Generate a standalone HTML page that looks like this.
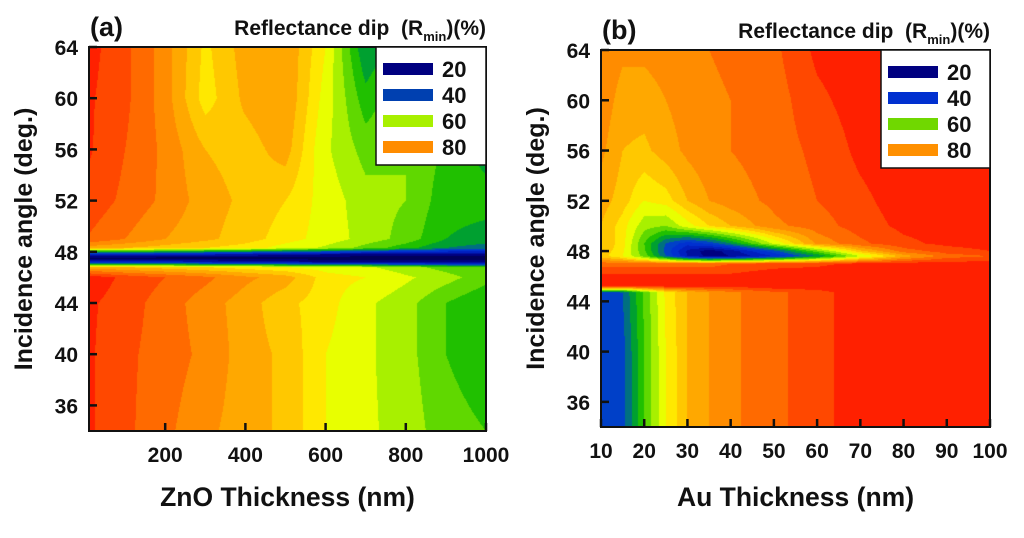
<!DOCTYPE html>
<html><head><meta charset="utf-8">
<style>
html,body{margin:0;padding:0;background:#fff;}
body{width:1024px;height:538px;position:relative;overflow:hidden;font-family:"Liberation Sans",Arial,sans-serif;font-weight:bold;color:#111;}
canvas{position:absolute;}
</style></head>
<body>
<canvas id="ca" width="397" height="384" style="left:89px;top:47px"></canvas>
<canvas id="cb" width="389" height="377" style="left:601px;top:50px"></canvas>
<svg id="ov" width="1024" height="538" style="position:absolute;left:0;top:0"></svg>
<script>
// ---- data panel (a) ----
const aX = [0,100,200,300,400,500,600,700,800,900,1000];
const aY = [34,40,44,46,46.8,47.2,47.5,47.8,48.3,49,52,56,60,64];
const aZ = [
 [95,91,87,83,80,77,70,66,63,57,55],
 [95,91,88,85,80,77,70,66,62,55,52],
 [95,92,88,84,80,75,72,66,62,55,50],
 [97,93,90,87,83,80,72,70,66,62,57],
 [80,78,76,74,72,70,68,66,62,58,55],
 [30,30,28,26,24,22,20,18,18,18,18],
 [12,12,12,12,12,12,12,12,12,12,12],
 [30,30,28,26,24,22,20,18,18,18,18],
 [80,78,76,74,72,68,64,58,52,45,42],
 [90,86,82,79,76,72,68,63,58,50,48],
 [93,89,85,80,77,74,68,62,60,52,52],
 [95,90,85,78,76,80,66,58,60,54,48],
 [95,91,84,72,79,82,68,52,60,58,55],
 [96,91,84,73,80,82,70,45,55,58,60]
];
// ---- data panel (b) ----
const bX = [10,15,20,25,30,35,40,50,60,70,80,90,100];
const bY = [34,40,44.7,45.2,46,47,47.6,48.0,48.6,50,52,56,60,64];
const bZ = [
 [35,38,55,70,78,82,85,89,92,97,97,97,97],
 [35,38,55,70,78,82,85,89,92,97,97,97,97],
 [37,40,56,71,78,82,85,89,92,97,97,97,97],
 [95,95,95,95,95,95,95,97,97,97,97,97,97],
 [95,95,95,95,95,95,95,97,97,97,97,97,97],
 [88,88,88,88,88,88,90,92,93,95,96,96,96],
 [76,70,58,40,25,18,20,30,45,65,80,88,90],
 [77,71,56,38,24,17,22,38,58,77,88,92,94],
 [78,72,55,40,32,36,45,66,83,89,93,95,96],
 [78,72,62,60,68,74,78,85,88,92,95,96,97],
 [80,76,70,72,78,82,84,87,90,93,96,97,97],
 [83,78,77,80,83,85,86,88,91,95,97,97,97],
 [85,80,80,82,84,85,86,88,93,96,97,97,97],
 [86,83,83,84,85,86,87,89,95,97,97,97,97]
];
const levels = [15,20,25,30,35,40,45,50,55,60,65,70,74,78,82,86,90,94];
const colors = ['#00005a','#000080','#0010a0','#0020c0','#0030d0','#0040c8','#007080','#00a030','#20c000','#60d800','#a8f000','#e8ff00','#ffe800','#ffc800','#ffa800','#ff8c00','#ff6a00','#ff4800','#ff2000'];

function interp(xs,ys,zs,x,y){
  let i=0;while(i<xs.length-2&&x>xs[i+1])i++;
  let j=0;while(j<ys.length-2&&y>ys[j+1])j++;
  const tx=Math.max(0,Math.min(1,(x-xs[i])/(xs[i+1]-xs[i])));
  const ty=Math.max(0,Math.min(1,(y-ys[j])/(ys[j+1]-ys[j])));
  const a=zs[j][i],b=zs[j][i+1],c=zs[j+1][i],d=zs[j+1][i+1];
  return (a*(1-tx)+b*tx)*(1-ty)+(c*(1-tx)+d*tx)*ty;
}
function hex(h){return [parseInt(h.substr(1,2),16),parseInt(h.substr(3,2),16),parseInt(h.substr(5,2),16)];}
const rgb=colors.map(hex);
function draw(id,xs,ys,zs,x0,x1,y0,y1){
  const cv=document.getElementById(id),ctx=cv.getContext('2d');
  const W=cv.width,H=cv.height,img=ctx.createImageData(W,H);
  for(let py=0;py<H;py++){const yv=y1-(py+0.5)/H*(y1-y0);
    for(let px=0;px<W;px++){const xv=x0+(px+0.5)/W*(x1-x0);
      const z=interp(xs,ys,zs,xv,yv);let k=0;while(k<levels.length&&z>=levels[k])k++;
      const c=rgb[k],o=(py*W+px)*4;img.data[o]=c[0];img.data[o+1]=c[1];img.data[o+2]=c[2];img.data[o+3]=255;}}
  ctx.putImageData(img,0,0);
}
draw('ca',aX,aY,aZ,10,1000,34,64);
draw('cb',bX,bY,bZ,10,100,34,64);

const NS='http://www.w3.org/2000/svg',ov=document.getElementById('ov');
function mk(tag,at,txt){const e=document.createElementNS(NS,tag);for(const k in at)e.setAttribute(k,at[k]);if(txt!==undefined)e.textContent=txt;ov.appendChild(e);return e;}
const legVals=['20','40','60','80'];
const FF='Liberation Sans, sans-serif';
function panel(p){
  const sx=v=>p.L+(v-p.x0)/(p.x1-p.x0)*(p.R-p.L);
  const sy=v=>p.B-(v-34)/30*(p.B-p.T);
  p.xt.forEach(v=>{
    const l=mk('line',{x1:sx(v),x2:sx(v),y1:p.B,y2:p.B-8,stroke:'#111','stroke-width':2.5});
    
    
    const t=mk('text',{x:sx(v),y:p.B+31,'text-anchor':'middle','font-size':21,'font-weight':'bold','font-family':FF,fill:'#111'},String(v));
    
    
  });
  [36,40,44,48,52,56,60,64].forEach(v=>{
    const l=mk('line',{x1:p.L,x2:p.L+8,y1:sy(v),y2:sy(v),stroke:'#111','stroke-width':2.5});
    
    
    const t=mk('text',{x:p.L-11,y:sy(v)+8,'text-anchor':'end','font-size':21,'font-weight':'bold','font-family':FF,fill:'#111'},String(v));
    
    
  });
  const fr=mk('rect',{x:p.L,y:p.T,width:p.R-p.L,height:p.B-p.T,fill:'none',stroke:'#111','stroke-width':2});
  
  
  const lg=mk('rect',{x:p.lx,y:p.T,width:p.R-p.lx,height:118,fill:'#fff',stroke:'#111','stroke-width':1.5});
  
  
  legVals.forEach((v,i)=>{
    const yy=p.T+22+i*26;
    const s=mk('rect',{x:p.lx+7,y:yy-6,width:50,height:12,fill:p.lc[i]});
    
    
    const t=mk('text',{x:p.lx+66,y:yy+8,'font-size':22,'font-weight':'bold','font-family':FF,fill:'#111'},v);
    
    
  });
  const ttl=mk('text',{x:p.R,y:p.T-12,'text-anchor':'end','font-size':21,'font-weight':'bold','font-family':FF,fill:'#111'});
  
  
  ttl.innerHTML='Reflectance dip&#160;&#160;(R<tspan font-size="13" dy="6">min</tspan><tspan dy="-6">)(%)</tspan>';
  const lab=mk('text',{x:p.L+1,y:p.T-11,'font-size':27,'font-weight':'bold','font-family':FF,fill:'#111'},p.lab);
  
  
  const xt=mk('text',{x:(p.L+p.R)/2,y:506,'text-anchor':'middle','font-size':p.xfs,'font-weight':'bold','font-family':FF,fill:'#111'},p.xtitle);
  
  
  const cy=(p.T+p.B)/2,cx=p.L-57;
  const yt=mk('text',{x:cx,y:cy,'text-anchor':'middle','font-size':25,'font-weight':'bold','font-family':FF,fill:'#111',transform:'rotate(-90 '+cx+' '+cy+')'},'Incidence angle (deg.)');
  
  
}
panel({L:89,R:486,T:47,B:431,x0:10,x1:1000,xt:[200,400,600,800,1000],lx:376,lab:'(a)',xtitle:'ZnO Thickness (nm)',xfs:26.5,lc:['#000080','#0040b0','#a8f000','#ff8c00']});
panel({L:601,R:990,T:50,B:427,x0:10,x1:100,xt:[10,20,30,40,50,60,70,80,90,100],lx:881,lab:'(b)',xtitle:'Au Thickness (nm)',xfs:26.5,lc:['#000080','#0030d0','#70d800','#ff9000']});
</script>
</body></html>
